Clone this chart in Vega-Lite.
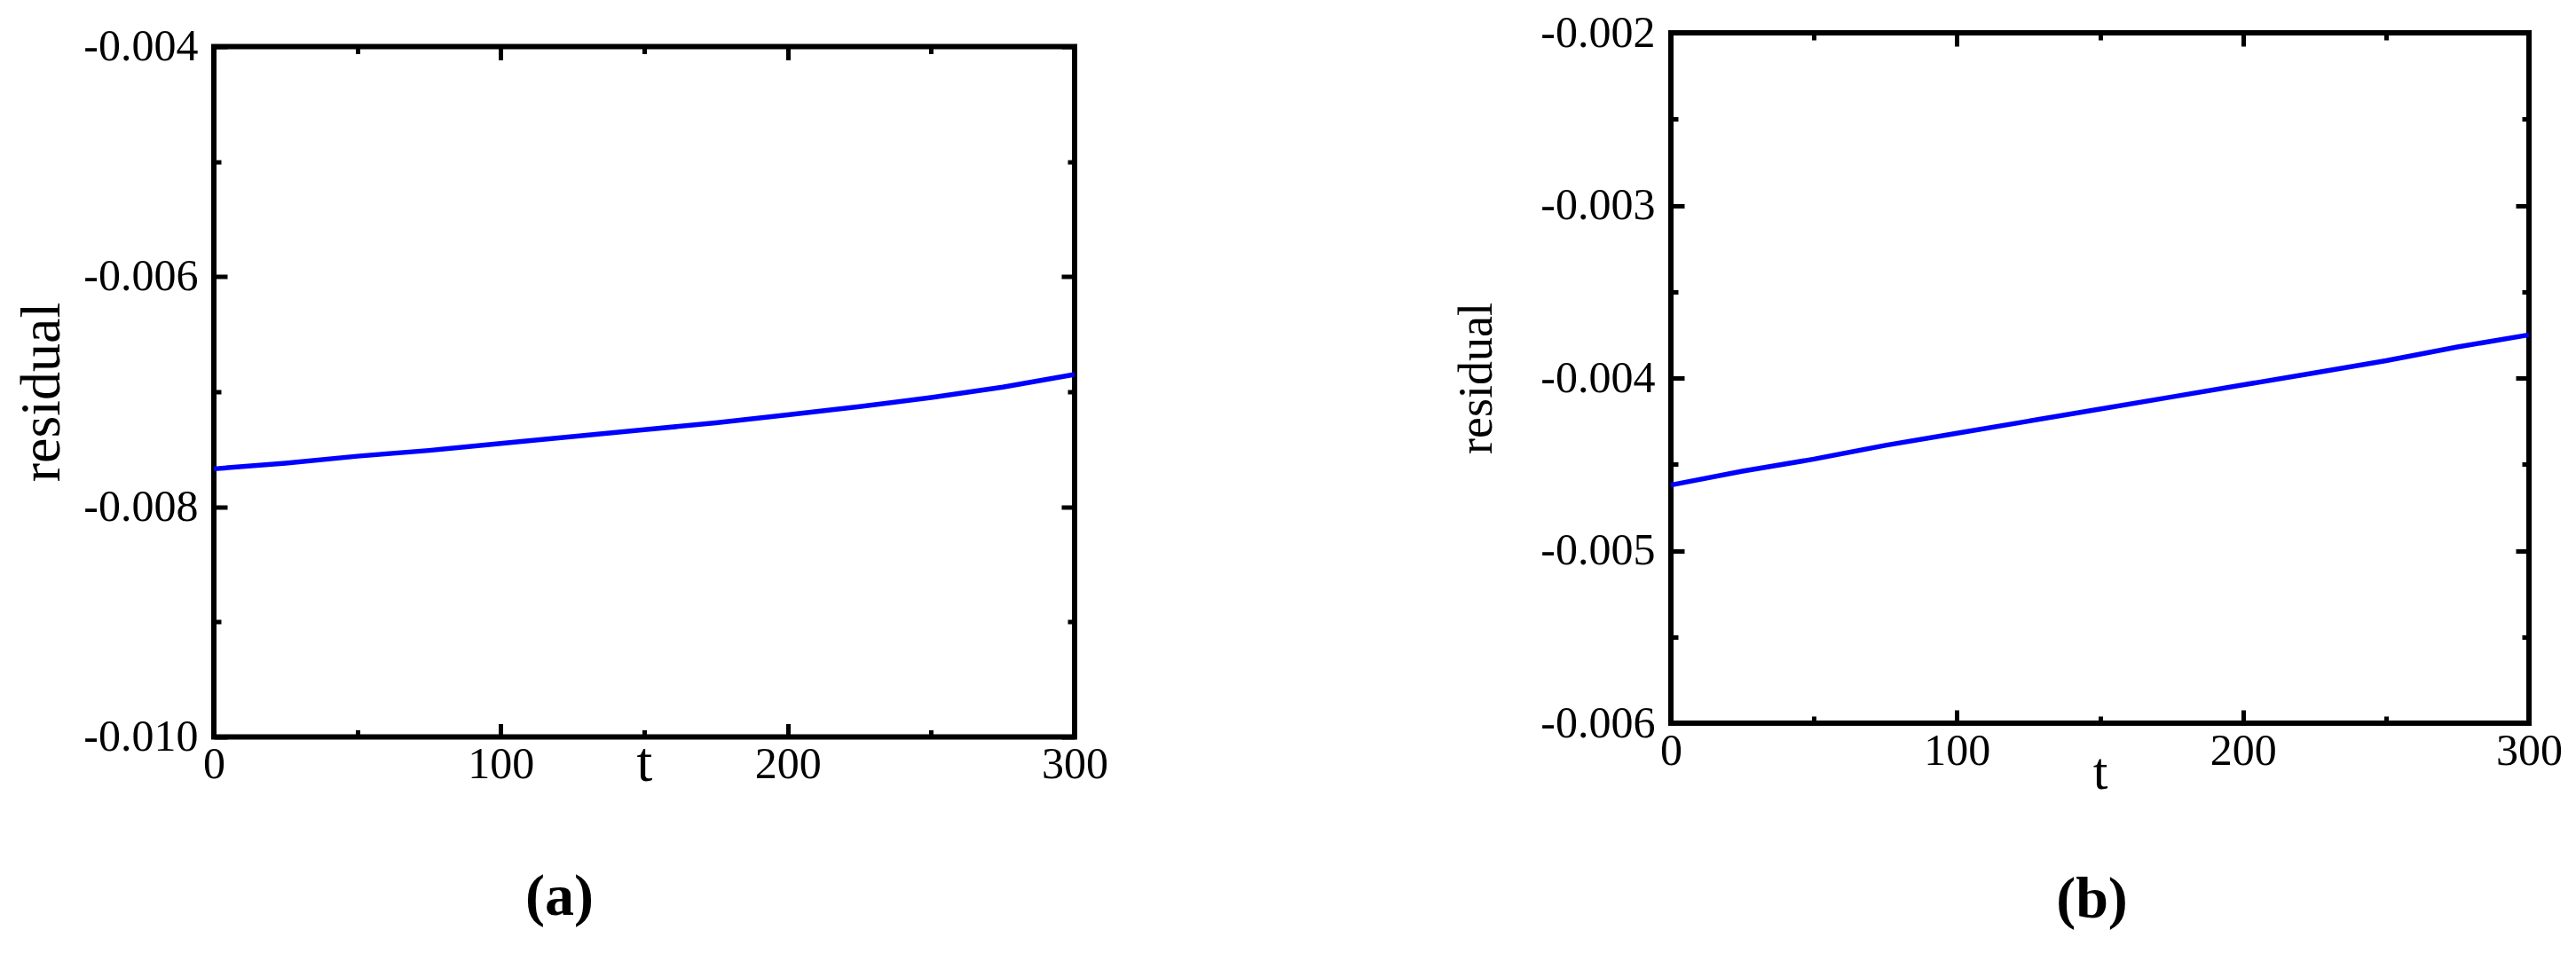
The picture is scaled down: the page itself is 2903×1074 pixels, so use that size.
{
  "$schema": "https://vega.github.io/schema/vega-lite/v6.json",
  "background": "white",
  "padding": {"left": 12, "top": 9, "right": 5, "bottom": 5},
  "spacing": 382,
  "center": true,
  "config": {
    "font": "Liberation Serif",
    "view": {"stroke": "black", "strokeWidth": 6},
    "axis": {
      "labelFont": "Liberation Serif",
      "titleFont": "Liberation Serif",
      "labelFontSize": 50,
      "labelColor": "black",
      "titleColor": "black",
      "titleFontWeight": "normal",
      "domain": false,
      "grid": false,
      "tickColor": "black",
      "tickWidth": 5,
      "labelFlush": false,
      "labelOverlap": false
    },
    "title": {"font": "Liberation Serif", "color": "black"}
  },
  "datasets": {
    "a": [
      {"t": 0, "r": -0.00767}, {"t": 25, "r": -0.00762}, {"t": 50, "r": -0.00756},
      {"t": 75, "r": -0.00751}, {"t": 100, "r": -0.00745}, {"t": 125, "r": -0.00739},
      {"t": 150, "r": -0.00733}, {"t": 175, "r": -0.00727}, {"t": 200, "r": -0.0072},
      {"t": 225, "r": -0.00713}, {"t": 250, "r": -0.00705}, {"t": 275, "r": -0.00696},
      {"t": 300, "r": -0.00685}
    ],
    "b": [
      {"t": 0, "r": -0.00462}, {"t": 25, "r": -0.00454}, {"t": 50, "r": -0.00447},
      {"t": 75, "r": -0.00439}, {"t": 100, "r": -0.00432}, {"t": 125, "r": -0.00425},
      {"t": 150, "r": -0.00418}, {"t": 175, "r": -0.00411}, {"t": 200, "r": -0.00404},
      {"t": 225, "r": -0.00397}, {"t": 250, "r": -0.0039}, {"t": 275, "r": -0.00382},
      {"t": 300, "r": -0.00375}
    ]
  },
  "hconcat": [
    {
      "width": 970,
      "height": 778,
      "title": {"text": " ", "fontSize": 15, "offset": 0},
      "data": {"name": "a"},
      "layer": [
        {
          "mark": {"type": "line", "color": "#0000ff", "strokeWidth": 5.5},
          "encoding": {
            "x": {"field": "t", "type": "quantitative", "scale": {"domain": [0, 300], "nice": false},
              "axis": {"orient": "bottom", "values": [0, 50, 100, 150, 200, 250, 300],
                "labelExpr": "datum.value % 100 === 0 ? datum.label : ''",
                "tickSize": {"condition": {"test": "datum.value % 100 === 0", "value": -15}, "value": -8},
                "labelPadding": 21, "title": "t", "titleFontSize": 64, "titleY": 49, "titleBaseline": "alphabetic"}},
            "y": {"field": "r", "type": "quantitative", "scale": {"domain": [-0.01, -0.004], "nice": false, "zero": false},
              "axis": {"orient": "left", "values": [-0.01, -0.009, -0.008, -0.007, -0.006, -0.005, -0.004],
                "labelExpr": "round(datum.value*10000) % 20 === 0 ? replace(format(datum.value, '.3f'), '\u2212', '-') : ''",
                "tickSize": {"condition": {"test": "round(datum.value*10000) % 20 === 0", "value": -15}, "value": -8},
                "labelPadding": 33, "title": "residual", "titleFontSize": 64, "titlePadding": 14}}
          }
        },
        {
          "mark": {"type": "line", "strokeOpacity": 0},
          "encoding": {
            "x": {"field": "t", "type": "quantitative",
              "axis": {"orient": "top", "values": [0, 50, 100, 150, 200, 250, 300], "labels": false, "title": null,
                "tickSize": {"condition": {"test": "datum.value % 100 === 0", "value": -15}, "value": -8}}},
            "y": {"field": "r", "type": "quantitative",
              "axis": {"orient": "right", "values": [-0.01, -0.009, -0.008, -0.007, -0.006, -0.005, -0.004], "labels": false, "title": null,
                "tickSize": {"condition": {"test": "round(datum.value*10000) % 20 === 0", "value": -15}, "value": -8}}}
          }
        },
        {
          "mark": {"type": "line", "strokeOpacity": 0},
          "encoding": {
            "x": {"field": "t", "type": "quantitative",
              "axis": {"orient": "bottom", "labels": false, "ticks": false, "title": "(a)", "titleFontSize": 66, "titleFontWeight": "bold",
                "titleX": 389, "titleY": 200, "titleBaseline": "alphabetic"}},
            "y": {"field": "r", "type": "quantitative", "axis": null}
          }
        }
      ],
      "resolve": {"axis": {"x": "independent", "y": "independent"}}
    },
    {
      "width": 967,
      "height": 778,
      "title": {"text": " ", "fontSize": 13, "offset": 0, "orient": "bottom"},
      "data": {"name": "b"},
      "layer": [
        {
          "mark": {"type": "line", "color": "#0000ff", "strokeWidth": 5.5},
          "encoding": {
            "x": {"field": "t", "type": "quantitative", "scale": {"domain": [0, 300], "nice": false},
              "axis": {"orient": "bottom", "values": [0, 50, 100, 150, 200, 250, 300],
                "labelExpr": "datum.value % 100 === 0 ? datum.label : ''",
                "tickSize": {"condition": {"test": "datum.value % 100 === 0", "value": -15}, "value": -8},
                "labelPadding": 21, "title": "t", "titleFontSize": 60, "titleY": 73, "titleBaseline": "alphabetic"}},
            "y": {"field": "r", "type": "quantitative", "scale": {"domain": [-0.006, -0.002], "nice": false, "zero": false},
              "axis": {"orient": "left", "values": [-0.006, -0.0055, -0.005, -0.0045, -0.004, -0.0035, -0.003, -0.0025, -0.002],
                "labelExpr": "round(datum.value*10000) % 10 === 0 ? replace(format(datum.value, '.3f'), '\u2212', '-') : ''",
                "tickSize": {"condition": {"test": "round(datum.value*10000) % 10 === 0", "value": -15}, "value": -8},
                "labelPadding": 33, "title": "residual", "titleFontSize": 54, "titlePadding": 44}}
          }
        },
        {
          "mark": {"type": "line", "strokeOpacity": 0},
          "encoding": {
            "x": {"field": "t", "type": "quantitative",
              "axis": {"orient": "top", "values": [0, 50, 100, 150, 200, 250, 300], "labels": false, "title": null,
                "tickSize": {"condition": {"test": "datum.value % 100 === 0", "value": -15}, "value": -8}}},
            "y": {"field": "r", "type": "quantitative",
              "axis": {"orient": "right", "values": [-0.006, -0.0055, -0.005, -0.0045, -0.004, -0.0035, -0.003, -0.0025, -0.002], "labels": false, "title": null,
                "tickSize": {"condition": {"test": "round(datum.value*10000) % 10 === 0", "value": -15}, "value": -8}}}
          }
        },
        {
          "mark": {"type": "line", "strokeOpacity": 0},
          "encoding": {
            "x": {"field": "t", "type": "quantitative",
              "axis": {"orient": "bottom", "labels": false, "ticks": false, "title": "(b)", "titleFontSize": 66, "titleFontWeight": "bold",
                "titleX": 474, "titleY": 218, "titleBaseline": "alphabetic"}},
            "y": {"field": "r", "type": "quantitative", "axis": null}
          }
        }
      ],
      "resolve": {"axis": {"x": "independent", "y": "independent"}}
    }
  ]
}
